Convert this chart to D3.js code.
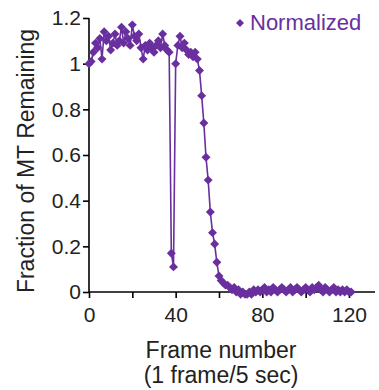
<!DOCTYPE html>
<html>
<head>
<meta charset="utf-8">
<script src="https://cdn.jsdelivr.net/npm/d3@7"></script>
<style>
  body { margin: 0; background: #fff; }
  text { font-family: "Liberation Sans", Arial, Helvetica, sans-serif; }
</style>
</head>
<body>
<div id="chart"></div>
<script>
// data
var frames = d3.range(0, 122);
var normalized = [
  1.00, 1.01, 1.05, 1.09, 1.07, 1.11, 1.02, 1.14, 1.10, 1.12,
  1.06, 1.09, 1.13, 1.08, 1.10, 1.16, 1.09, 1.14, 1.11, 1.08,
  1.17, 1.12, 1.10, 1.13, 1.07, 1.02, 1.08, 1.06, 1.09, 1.07,
  1.05, 1.08, 1.10, 1.07, 1.13, 1.08, 1.06, 1.05, 0.17, 0.11,
  1.00, 1.08, 1.12, 1.07, 1.09, 1.06, 1.04, 1.05, 1.03, 1.05,
  1.02, 0.97, 0.86, 0.74, 0.59, 0.49, 0.35, 0.26, 0.21, 0.13,
  0.07, 0.05, 0.04, 0.03, 0.03, 0.02, 0.01, 0.02, 0.00, 0.01,
  -0.01, 0.00, -0.01, -0.01, 0.00, -0.01, 0.01, 0.00, 0.01, 0.00,
  0.01, 0.02, 0.00, 0.01, 0.00, 0.02, 0.01, 0.00, 0.01, 0.02,
  0.01, 0.00, 0.01, 0.02, 0.00, 0.01, 0.02, 0.01, 0.00, 0.01,
  0.02, 0.01, 0.00, 0.02, 0.01, 0.02, 0.03, 0.01, 0.00, 0.02,
  0.01, 0.00, 0.01, 0.02, 0.00, 0.01, 0.00, 0.01, 0.00, 0.01,
  0.00, 0.00
];
var xTicks = [0, 20, 40, 60, 80, 100, 120];
var xLabels = [0, 40, 80, 120];
var yTicks = [0, 0.2, 0.4, 0.6, 0.8, 1.0, 1.2];
var seriesName = "Normalized";

var purple = "#6a2f9e";
var width = 379, height = 390;

var svg = d3.select("#chart").append("svg")
  .attr("width", width)
  .attr("height", height);

var x = d3.scaleLinear().domain([0, 132]).range([89, 375]);
var y = d3.scaleLinear().domain([0, 1.2]).range([292, 18]);

// axes
var xAxis = d3.axisBottom(x)
  .tickValues(xTicks)
  .tickSize(6)
  .tickPadding(9)
  .tickFormat(function(d) { return xLabels.indexOf(d) >= 0 ? d : ""; });

var yAxis = d3.axisLeft(y)
  .tickValues(yTicks)
  .tickSize(6)
  .tickPadding(2)
  .tickFormat(function(d) { return +d.toFixed(1) + ""; });

var gx = svg.append("g")
  .attr("transform", "translate(0," + y(0) + ")")
  .call(xAxis);
gx.select(".domain").attr("d", "M" + x.range()[0] + ",0H" + x.range()[1]);

var gy = svg.append("g")
  .attr("transform", "translate(" + x(0) + ",0)")
  .call(yAxis);
gy.select(".domain").attr("d", "M0," + y.range()[0] + "V" + y.range()[1]);

svg.selectAll(".domain, .tick line")
  .attr("stroke", "#000")
  .attr("stroke-width", 1.6);
svg.selectAll(".tick text")
  .attr("fill", "#222")
  .style("font-size", "21px");

// axis titles
svg.append("text")
  .attr("x", 221).attr("y", 358)
  .attr("text-anchor", "middle")
  .style("font-size", "23px").attr("fill", "#222")
  .text("Frame number");
svg.append("text")
  .attr("x", 221).attr("y", 383)
  .attr("text-anchor", "middle")
  .style("font-size", "23px").attr("fill", "#222")
  .text("(1 frame/5 sec)");
svg.append("text")
  .attr("transform", "translate(34,161) rotate(-90)")
  .attr("text-anchor", "middle")
  .style("font-size", "23px").attr("fill", "#222")
  .text("Fraction of MT Remaining");

// series
var pts = frames.map(function(f, i) { return [f, normalized[i]]; });

svg.append("path")
  .datum(pts)
  .attr("fill", "none")
  .attr("stroke", purple)
  .attr("stroke-width", 1.6)
  .attr("d", d3.line()
    .x(function(d) { return x(d[0]); })
    .y(function(d) { return y(d[1]); }));

var diamond = d3.symbol().type(d3.symbolSquare).size(40);

svg.append("g").selectAll("path")
  .data(pts)
  .join("path")
  .attr("d", diamond)
  .attr("fill", purple)
  .attr("transform", function(d) {
    return "translate(" + x(d[0]) + "," + y(d[1]) + ") rotate(45)";
  });

// legend
svg.append("path")
  .attr("d", d3.symbol().type(d3.symbolSquare).size(32))
  .attr("fill", purple)
  .attr("transform", "translate(240,23) rotate(45)");
svg.append("text")
  .attr("x", 250).attr("y", 30)
  .style("font-size", "22px")
  .attr("fill", purple)
  .text(seriesName);
</script>
</body>
</html>
